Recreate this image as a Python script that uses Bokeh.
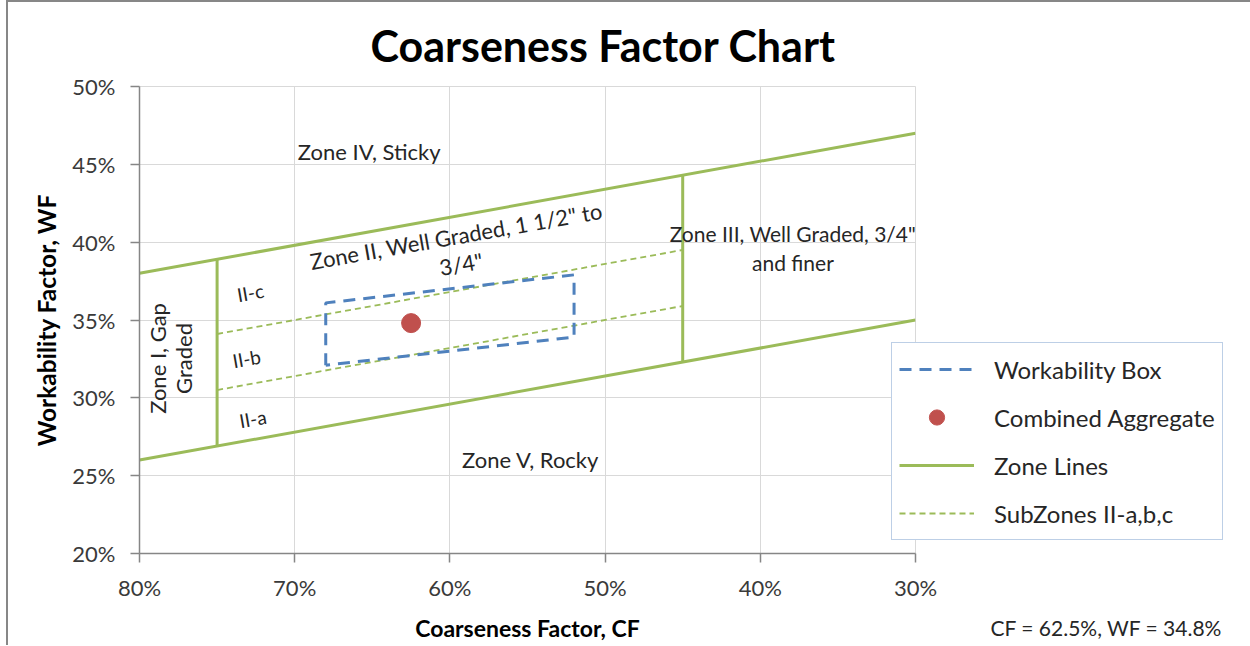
from bokeh.plotting import figure
from bokeh.layouts import column
from bokeh.models import (Range1d, FixedTicker, PrintfTickFormatter, Label,
                          Legend, LegendItem)
from bokeh.embed import file_html
from bokeh.resources import INLINE

# ---------------- data ----------------
cf_ends = [80, 30]                 # CF end points of the zone limit lines
upper_wf = [38.0, 47.0]            # upper Zone II limit
lower_wf = [26.0, 35.0]            # lower Zone II limit
div_cf = [75, 45]                  # vertical zone dividers
div_low_wf = [26.9, 32.3]
div_high_wf = [38.9, 44.3]
sub_cf = [75, 45]                  # subzone boundaries
sub_ab_wf = [30.5, 35.9]
sub_bc_wf = [34.1, 39.5]
box_cf = [68, 68, 52, 52, 68]      # workability box
box_wf = [32.1, 36.1, 37.9, 33.9, 32.1]
agg_cf = [62.5]                    # combined aggregate
agg_wf = [34.8]
x_ticks = [80, 70, 60, 50, 40, 30]
y_ticks = [20, 25, 30, 35, 40, 45, 50]

FONT = "Lato"
TXT = "#262626"
GREEN = "#9BBB59"
BLUE = "#4F81BD"
RED = "#C0504D"

p = figure(frame_width=776, frame_height=467,
           min_border_left=131, min_border_top=84, min_border_right=300,
           min_border_bottom=56,
           x_range=Range1d(80, 30), y_range=Range1d(20, 50),
           output_backend="svg", toolbar_location=None)
p.background_fill_color = "white"
p.border_fill_color = "white"
p.outline_line_color = "#D9D9D9"

p.title.text = "Coarseness Factor Chart"
p.title.align = "left"
p.title.offset = 231
p.title.standoff = 31
p.title.text_font = FONT
p.title.text_font_size = "43px"
p.title.text_font_style = "bold"
p.title.text_color = "black"

for ax, ticks in ((p.xaxis[0], x_ticks), (p.yaxis[0], y_ticks)):
    ax.ticker = FixedTicker(ticks=ticks)
    ax.formatter = PrintfTickFormatter(format="%d%%")
    ax.axis_line_color = "#868686"
    ax.axis_line_width = 1.5
    ax.major_tick_line_color = "#868686"
    ax.major_tick_line_width = 1.5
    ax.major_tick_out = 9
    ax.major_tick_in = 0
    ax.minor_tick_line_color = None
    ax.major_label_text_font = FONT
    ax.major_label_text_font_size = "22px"
    ax.major_label_text_color = "#3A3A3A"
    ax.axis_label_text_font = FONT
    ax.axis_label_text_font_size = "24.5px"
    ax.axis_label_text_font_style = "bold"
    ax.axis_label_text_color = "black"

p.yaxis.axis_label = "Workability Factor, WF"
p.xaxis.major_label_standoff = 11
p.yaxis.major_label_standoff = 15
p.yaxis.axis_label_standoff = 8

p.xgrid.ticker = FixedTicker(ticks=x_ticks)
p.ygrid.ticker = FixedTicker(ticks=y_ticks)
p.xgrid.grid_line_color = "#D9D9D9"
p.ygrid.grid_line_color = "#D9D9D9"

# ---------------- glyphs ----------------
zone = p.multi_line(xs=[cf_ends, cf_ends, [div_cf[0]] * 2, [div_cf[1]] * 2],
                    ys=[upper_wf, lower_wf,
                        [div_low_wf[0], div_high_wf[0]],
                        [div_low_wf[1], div_high_wf[1]]],
                    line_color=GREEN, line_width=3)
sub = p.multi_line(xs=[sub_cf, sub_cf], ys=[sub_ab_wf, sub_bc_wf],
                   line_color=GREEN, line_width=1.8, line_dash="6 4")
box = p.line(box_cf, box_wf, line_color=BLUE, line_width=3, line_dash="12 8")
pt = p.scatter(agg_cf, agg_wf, size=19, fill_color=RED, line_color=RED)

legend = Legend(items=[LegendItem(label="Workability Box", renderers=[box]),
                       LegendItem(label="Combined Aggregate", renderers=[pt]),
                       LegendItem(label="Zone Lines", renderers=[zone]),
                       LegendItem(label="SubZones II-a,b,c", renderers=[sub])],
                location=(-24, 13))
legend.border_line_color = "#7BA0CD"
legend.border_line_width = 1.5
legend.background_fill_color = "white"
legend.background_fill_alpha = 1
legend.label_text_font = FONT
legend.label_text_font_size = "24px"
legend.label_text_color = TXT
legend.padding = 7
legend.spacing = 10
legend.glyph_height = 38
legend.label_height = 38
legend.glyph_width = 75
legend.label_standoff = 20
legend.margin = 0
p.add_layout(legend, "right")

# ---------------- annotations ----------------
def lab(x, y, text, size="22px", angle=0, xo=0, yo=0):
    p.add_layout(Label(x=x, y=y, text=text,
                       text_font=FONT, text_font_size=size,
                       text_color=TXT, text_align="center",
                       text_baseline="middle",
                       angle=angle, angle_units="deg",
                       x_offset=xo, y_offset=yo))

lab(65.2, 45.8, "Zone IV, Sticky")
lab(59.6, 40.4, "Zone II, Well Graded, 1 1/2\" to", angle=10)
lab(59.6, 40.4, "3/4\"", angle=10, xo=5, yo=-28)
lab(37.9, 40.56, "Zone III, Well Graded, 3/4\"", size="21px")
lab(37.9, 40.56, "and finer", size="21px", yo=-29)
lab(78.84, 32.53, "Zone I, Gap", angle=90)
lab(77.17, 32.53, "Graded", angle=90)
lab(72.85, 36.77, "II-c", size="19px", angle=10)
lab(73.1, 32.53, "II-b", size="19px", angle=10)
lab(72.7, 28.67, "II-a", size="19px", angle=10)
lab(54.8, 26.04, "Zone V, Rocky")

# ---------------- strip under the chart: axis title + readout ----------------
W2, H2 = 1100, 36
q = figure(frame_width=W2, frame_height=H2, min_border_left=131,
           min_border_right=0, min_border_top=0, min_border_bottom=0,
           x_range=Range1d(0, W2), y_range=Range1d(0, H2),
           x_axis_location=None, y_axis_location=None,
           output_backend="svg", toolbar_location=None)
q.grid.visible = False
q.outline_line_color = None
q.background_fill_color = "white"
q.border_fill_color = "white"
q.add_layout(Label(x=388, y=H2 / 2, text="Coarseness Factor, CF",
                   text_font=FONT, text_font_size="23px",
                   text_font_style="bold", text_color="black",
                   text_align="center", text_baseline="middle"))
q.add_layout(Label(x=851, y=H2 / 2,
                   text=f"CF = {agg_cf[0]}%,  WF = {agg_wf[0]}%",
                   text_font=FONT, text_font_size="21px", text_color=TXT,
                   text_align="left", text_baseline="middle"))

layout = column(p, q, spacing=0,
                styles={"margin-left": "6px",
                        "border-left": "2px solid #878787",
                        "border-top": "2px solid #878787"})

open("out.html", "w").write(file_html(layout, INLINE))
